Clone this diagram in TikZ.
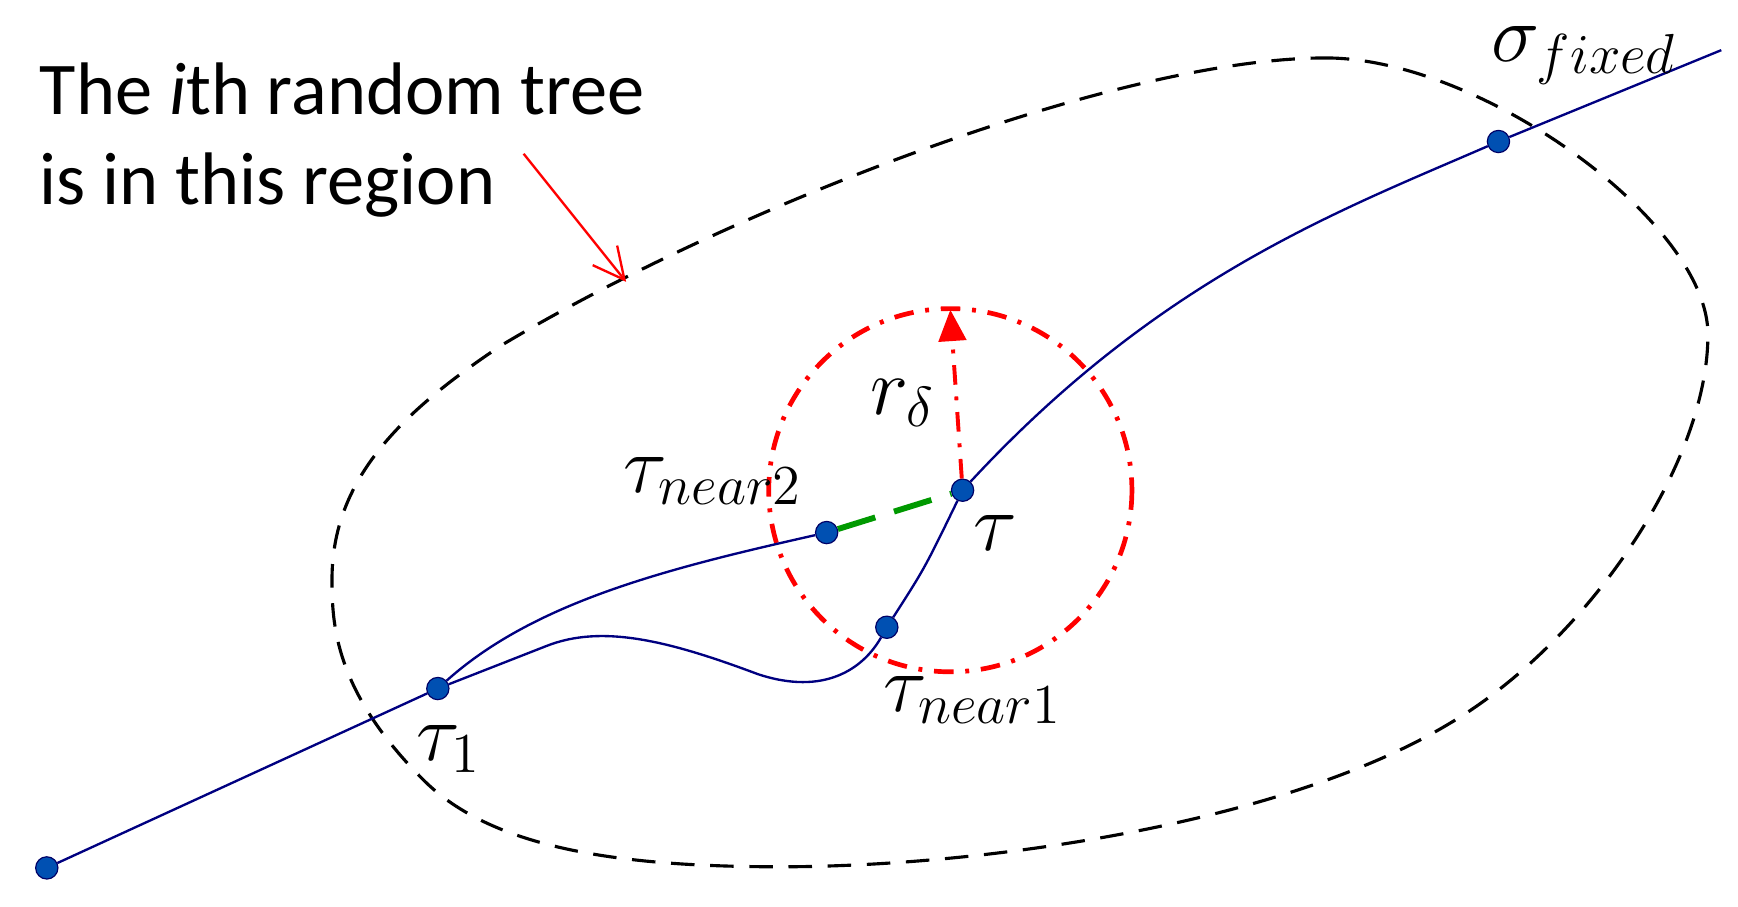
\documentclass[tikz,border=0pt]{standalone}
\usepackage{fontspec}
\setsansfont{Carlito}
\usetikzlibrary{arrows.meta}
\begin{document}
\begin{tikzpicture}[x=0.01cm,y=-0.01cm,
  dot/.style={circle,fill=blue!55!cyan!70!black,draw=blue!40!black,line width=0.3pt,minimum size=0.2cm,inner sep=0pt},
  lbl/.style={font=\fontsize{22}{26}\selectfont},
  tree/.style={draw=blue!50!black,line width=0.6pt}]
\useasboundingbox (0,0) rectangle (1560,814);
\node[dot] (a) at (42,779) {};
\node[dot] (t1) at (393,618) {};
\node[dot] (t) at (864,440) {};
\node[dot] (n2) at (742,478) {};
\node[dot] (n1) at (796,563) {};
\node[dot] (s) at (1345,127) {};
\coordinate (e) at (1545,45);
\coordinate (top) at (853,278);
\coordinate (k) at (490,580);
% region
\draw[black,line width=0.8pt,dash pattern=on 6pt off 4pt]
  (1190,52) .. controls (1330,52) and (1533,200) .. (1533,300)
  .. controls (1533,420) and (1420,580) .. (1300,650)
  .. controls (1150,740) and (880,778) .. (700,778)
  .. controls (550,778) and (440,760) .. (380,700)
  .. controls (300,620) and (298,560) .. (298,520)
  .. controls (298,430) and (360,370) .. (450,310)
  .. controls (650,190) and (1000,52) .. (1190,52);
% circle
\draw[red,line width=1.2pt,dash pattern=on 5pt off 3pt on 1pt off 3pt] (853,440) circle[radius=163];
\draw[red,line width=1pt,dash pattern=on 5pt off 3pt on 1pt off 3pt,-{Triangle[length=8pt,width=7pt]}] (t) -- (top);
% tree
\draw[tree] (a) -- (t1);
\draw[tree] (t1) -- (k) .. controls (540,560) and (600,575) .. (680,605)
  .. controls (740,625) and (775,600) .. (n1);
\draw[tree] (n1) .. controls (830,510) .. (t);
\draw[tree] (t1) .. controls (480,540) and (600,510) .. (n2);
\draw[tree] (t) .. controls (1040,250) and (1200,190) .. (s) -- (e);
\draw[green!60!black,line width=1.5pt,dash pattern=on 10pt off 5pt] (n2) -- (t);
% annotation
\node[font=\sffamily\fontsize{19}{23}\selectfont,anchor=north west,align=left,inner sep=0pt] (txt) at (35,56) {The \textit{i}th random tree\\is in this region};
\coordinate (ar) at (562,253);
\draw[red,line width=0.6pt,-{Straight Barb[length=8pt,width=8pt]}] (470,138) -- (ar);
% labels
\node[lbl] (ls) at (1422,50) {$\sigma_{fixed}$};
\node[lbl] (lr) at (810,362) {$r_\delta$};
\node[lbl] (ln2) at (640,432) {$\tau_{near2}$};
\node[lbl] (lt) at (893,478) {$\tau$};
\node[lbl] (ln1) at (873,628) {$\tau_{near1}$};
\node[lbl] (lt1) at (403,672) {$\tau_1$};
\end{tikzpicture}
\end{document}
